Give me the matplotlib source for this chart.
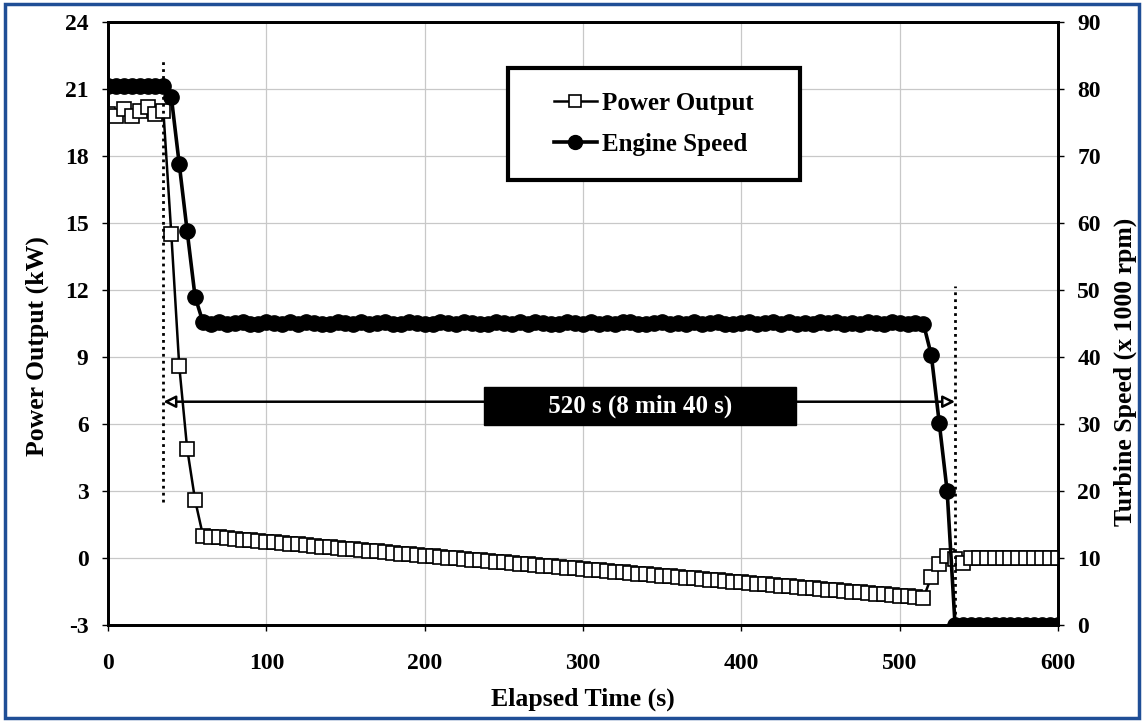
import matplotlib
matplotlib.use("Agg")
import matplotlib.pyplot as plt
from matplotlib.patches import Rectangle

plt.rcParams['font.family'] = ['Liberation Serif', 'DejaVu Serif']
plt.rcParams['font.weight'] = 'bold'
plt.rcParams['axes.unicode_minus'] = False

time_s = list(range(0, 601, 5))

power_kw = [19.9, 19.8, 20.1, 19.8, 20.0, 20.2, 19.9, 20.0,
            14.5, 8.6, 4.9, 2.6, 1.0,
            0.95, 0.92, 0.89, 0.85, 0.83, 0.80, 0.76, 0.74, 0.70, 0.67,
            0.64, 0.61, 0.57, 0.55, 0.51, 0.49, 0.45, 0.42, 0.39, 0.36,
            0.33, 0.30, 0.27, 0.24, 0.20, 0.18, 0.14, 0.11, 0.08, 0.05,
            0.02, -0.01, -0.04, -0.07, -0.10, -0.13, -0.16, -0.19, -0.22, -0.25,
            -0.28, -0.31, -0.34, -0.37, -0.40, -0.43, -0.46, -0.49, -0.52, -0.55,
            -0.58, -0.61, -0.64, -0.67, -0.70, -0.73, -0.76, -0.79, -0.82, -0.85,
            -0.88, -0.91, -0.94, -0.97, -1.00, -1.03, -1.06, -1.09, -1.12, -1.15,
            -1.18, -1.21, -1.24, -1.27, -1.30, -1.33, -1.36, -1.39, -1.42, -1.45,
            -1.48, -1.51, -1.54, -1.57, -1.60, -1.63, -1.66, -1.69, -1.72, -1.75,
            -1.79,
            -0.85, -0.27, 0.1, -0.05, -0.2,
            0.0, 0.0, 0.0, 0.0, 0.0, 0.0, 0.0, 0.0, 0.0, 0.0, 0.0, 0.0]

engine_krpm = [80.5, 80.5, 80.4, 80.5, 80.5, 80.4, 80.5, 80.5,
               78.8, 68.8, 58.8, 49.0, 45.2,
               45.0, 45.2, 44.9, 45.1, 45.3, 45.0, 44.9, 45.2, 45.1, 44.9,
               45.2, 45.0, 45.3, 45.1, 44.9, 45.0, 45.2, 45.1, 44.9, 45.3,
               45.0, 45.1, 45.2, 44.9, 45.0, 45.3, 45.1, 45.0, 44.9, 45.2,
               45.1, 45.0, 45.3, 45.1, 44.9, 45.0, 45.2, 45.1, 44.9, 45.2,
               45.0, 45.3, 45.1, 45.0, 44.9, 45.2, 45.1, 45.0, 45.2, 44.9,
               45.1, 45.0, 45.2, 45.3, 45.0, 44.9, 45.1, 45.2, 45.0, 45.1,
               44.9, 45.2, 45.0, 45.1, 45.3, 45.0, 44.9, 45.1, 45.2, 45.0,
               45.1, 45.3, 45.0, 45.2, 44.9, 45.1, 45.0, 45.2, 45.1, 45.3,
               45.0, 45.1, 44.9, 45.2, 45.1, 45.0, 45.2, 45.1, 45.0, 45.1,
               45.0,
               40.3, 30.2, 20.0, 0.0,
               0.0, 0.0, 0.0, 0.0, 0.0, 0.0, 0.0, 0.0, 0.0, 0.0, 0.0, 0.0, 0.0]

x_ticks = [0, 100, 200, 300, 400, 500, 600]
left_ticks = [-3, 0, 3, 6, 9, 12, 15, 18, 21, 24]
right_ticks = [0, 10, 20, 30, 40, 50, 60, 70, 80, 90]

t_start = 35
t_end = 535
span_label = '520 s (8 min 40 s)'

tick_fs = 17
label_fs = 18.5

fig = plt.figure(figsize=(11.44, 7.21), dpi=100)
ax = fig.add_axes([0.0944, 0.1331, 0.8304, 0.8363])
ax2 = ax.twinx()

# power on the left axis
l1, = ax.plot(time_s, power_kw, color='black', lw=1.8, marker='s', ms=10,
              mfc='white', mec='black', mew=1.2, label='Power Output', zorder=3)
ax.set_xlim(0, 600)
ax.set_ylim(-3, 24)
ax.set_xticks(x_ticks)
ax.set_yticks(left_ticks)
ax.grid(True, color='#c8c8c8', lw=0.9)
ax.set_axisbelow(True)
ax.set_xlabel('Elapsed Time (s)', fontsize=label_fs, fontweight='bold', labelpad=10)
ax.set_ylabel('Power Output (kW)', fontsize=label_fs, fontweight='bold')
ax.yaxis.set_label_coords(-0.062, 0.463)

# engine speed on the right axis
l2, = ax2.plot(time_s, engine_krpm, color='black', lw=2.6, marker='o', ms=11,
               mfc='black', mec='black', label='Engine Speed', zorder=3)
ax2.set_ylim(0, 90)
ax2.set_yticks(right_ticks)
ax2.set_ylabel('Turbine Speed (x 1000 rpm)', fontsize=label_fs, fontweight='bold')
ax2.yaxis.set_label_coords(1.059, 0.42)

for a in (ax, ax2):
    a.tick_params(axis='y', labelsize=tick_fs, direction='out', length=4, width=1, pad=10)
    a.tick_params(axis='x', labelsize=tick_fs, direction='out', length=4, width=1, pad=16)
    for lab in a.get_xticklabels() + a.get_yticklabels():
        lab.set_fontweight('bold')
    for s in a.spines.values():
        s.set_linewidth(2.0)

# dotted markers and span arrow
ax.vlines(t_start, 2.5, 22.3, colors='black', linestyles=(0, (1, 1.5)), lw=2.0, zorder=5)
ax.vlines(t_end, -2.8, 12.2, colors='black', linestyles=(0, (1, 1.5)), lw=2.0, zorder=5)

ax2.annotate('', xy=(t_start, (7 + 3) / 0.3), xytext=(t_end, (7 + 3) / 0.3),
             arrowprops=dict(arrowstyle='<|-|>', fc='white', ec='black', lw=1.8,
                             mutation_scale=18, shrinkA=0, shrinkB=0), zorder=6)
ax2.text(336, (6.8 + 3) / 0.3, ' ' * 9 + span_label + ' ' * 9,
         color='white', fontsize=18, fontweight='bold', ha='center', va='center',
         bbox=dict(boxstyle='square,pad=0.3', fc='black', ec='black'), zorder=7)

# legend box
ax2.add_patch(Rectangle((0.421, 0.738), 0.307, 0.186, transform=ax2.transAxes,
                        fc='white', ec='black', lw=3, zorder=8))
leg = ax2.legend([l1, l2], ['Power Output', 'Engine Speed'], loc='center',
                 bbox_to_anchor=(0.5745, 0.831), fontsize=18, frameon=False,
                 handlelength=1.7, labelspacing=0.7, handletextpad=0.2,
                 borderaxespad=0)
leg.set_zorder(9)
for txt in leg.get_texts():
    txt.set_fontweight('bold')
leg.legend_handles[0].set_markersize(9)
leg.legend_handles[1].set_markersize(10)

# blue frame around the figure
fig.patches.append(Rectangle((0.004, 0.004), 0.992, 0.99, transform=fig.transFigure,
                             fill=False, ec='#1f4e96', lw=2.5))

fig.savefig('out.png', dpi=100)
